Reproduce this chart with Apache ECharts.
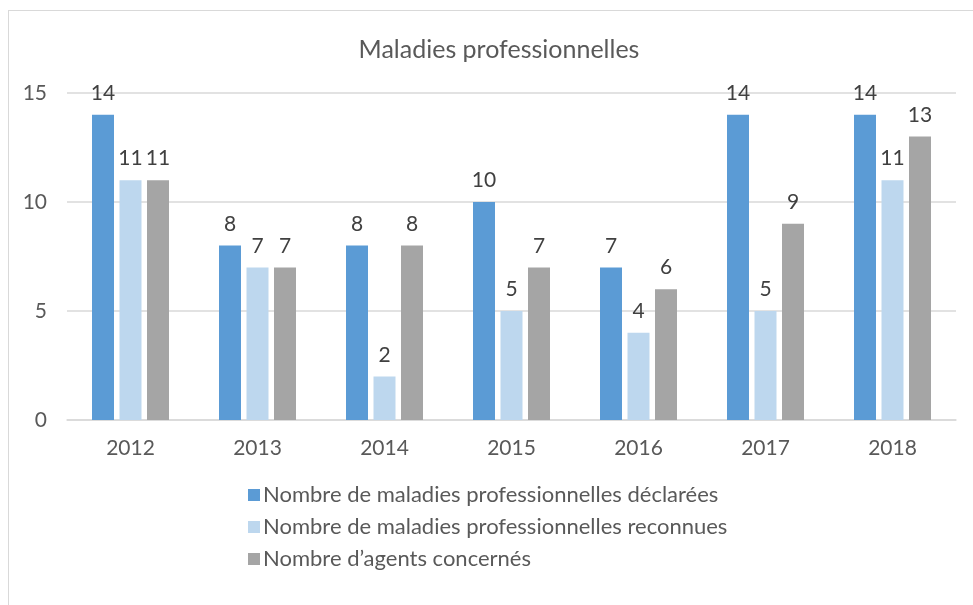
<!DOCTYPE html>
<html>
<head>
<meta charset="utf-8">
<script src="https://cdn.jsdelivr.net/npm/echarts@6/dist/echarts.min.js"></script>
<style>
  html, body { margin: 0; padding: 0; background: #fff; }
  #frame { position: absolute; left: 8px; top: 10px; width: 1000px; height: 700px; border: 1px solid #d9d9d9; box-sizing: border-box; }
  #chart { position: absolute; left: 0; top: 0; width: 973px; height: 605px; }
</style>
</head>
<body>
<div id="frame"></div>
<div id="chart"></div>
<script>
// données
const years = ["2012", "2013", "2014", "2015", "2016", "2017", "2018"];
const declarees = [14, 8, 8, 10, 7, 14, 14];
const reconnues = [11, 7, 2, 5, 4, 5, 11];
const agents = [11, 7, 8, 7, 6, 9, 13];
const yTicks = { min: 0, max: 15, interval: 5 };

const FONT = "Lato, 'Open Sans', sans-serif";
const chart = echarts.init(document.getElementById("chart"));

const mkSeries = (name, data, color) => ({
  name,
  type: "bar",
  data,
  barWidth: 22,
  barGap: "25%",
  itemStyle: { color },
  label: { show: true, position: "top", distance: 11, color: "#404040", fontSize: 21, fontFamily: FONT },
});

chart.setOption({
  animation: false,
  title: {
    text: "Maladies professionnelles",
    left: 494,
    textAlign: "center",
    top: 32,
    textStyle: { color: "#595959", fontSize: 25, fontWeight: "normal", fontFamily: FONT },
  },
  grid: { left: 67, right: 17, top: 93, bottom: 185, containLabel: false },
  legend: {
    orient: "vertical",
    left: 243,
    top: 479,
    itemWidth: 12,
    itemHeight: 12,
    itemGap: 10,
    icon: "rect",
    textStyle: { color: "#595959", fontSize: 22, fontFamily: FONT, padding: [0, 0, 0, -2] },
  },
  xAxis: {
    type: "category",
    data: years,
    axisLine: { lineStyle: { color: "#d9d9d9", width: 1.5 } },
    axisTick: { show: false },
    axisLabel: { color: "#595959", fontSize: 21, fontFamily: FONT, margin: 18 },
  },
  yAxis: {
    type: "value",
    min: yTicks.min,
    max: yTicks.max,
    interval: yTicks.interval,
    axisLine: { show: false },
    axisTick: { show: false },
    splitLine: { lineStyle: { color: "#d9d9d9", width: 1.5 } },
    axisLabel: { color: "#595959", fontSize: 21, fontFamily: FONT, margin: 20 },
  },
  series: [
    mkSeries("Nombre de maladies professionnelles déclarées", declarees, "#5b9bd5"),
    mkSeries("Nombre de maladies professionnelles reconnues", reconnues, "#bdd7ee"),
    mkSeries("Nombre d’agents concernés", agents, "#a5a5a5"),
  ],
});
</script>
</body>
</html>
